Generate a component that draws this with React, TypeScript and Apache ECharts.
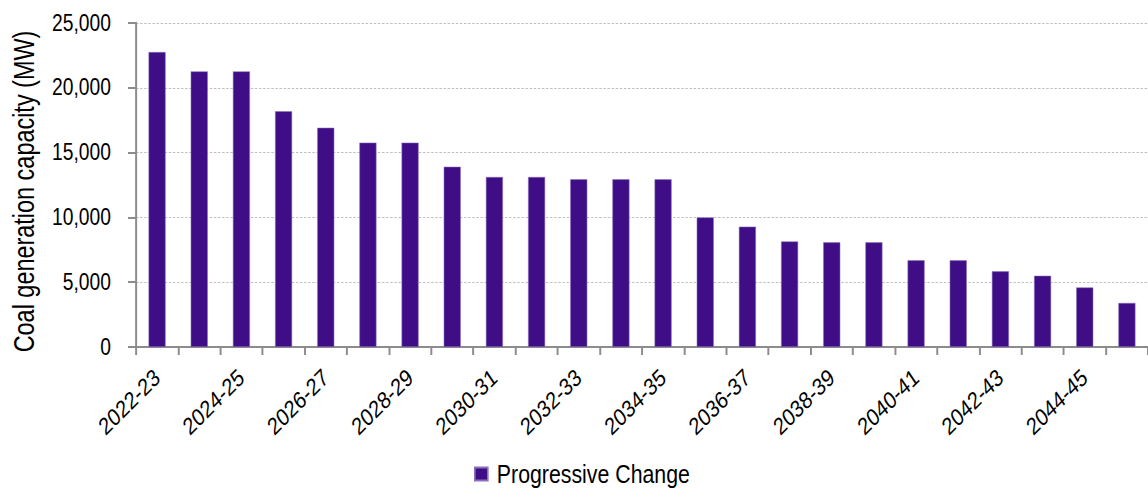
import React, { useEffect, useRef } from "react";
import * as echarts from "echarts";

const categories = [
  "2022-23", "2023-24", "2024-25", "2025-26", "2026-27", "2027-28", "2028-29", "2029-30",
  "2030-31", "2031-32", "2032-33", "2033-34", "2034-35", "2035-36", "2036-37", "2037-38",
  "2038-39", "2039-40", "2040-41", "2041-42", "2042-43", "2043-44", "2044-45", "2045-46",
];

const progressiveChange = [
  22760, 21270, 21270, 18190, 16920, 15770, 15770, 13910,
  13120, 13120, 12940, 12940, 12940, 10000, 9290, 8150,
  8080, 8080, 6690, 6690, 5840, 5500, 4600, 3400,
];

const seriesName = "Progressive Change";
const yTitle = "Coal generation capacity (MW)";
const yMin = 0;
const yMax = 25000;
const yInterval = 5000;

// The reference uses a condensed (Arial Narrow-like) face. We render with
// Liberation Sans on a wider canvas and squeeze it horizontally.
const SQ = 0.82;
const W = 1148 / SQ;
const H = 492;
const FONT = "'Liberation Sans', Arial, sans-serif";
const px = (x: number) => x / SQ;

export default function App() {
  const ref = useRef<HTMLDivElement>(null);

  useEffect(() => {
    if (!ref.current) return;
    const chart = echarts.init(ref.current, undefined, { renderer: "svg" });
    chart.setOption({
      animation: false,
      backgroundColor: "#ffffff",
      grid: { left: px(136), right: W - px(1153.4), top: 23, bottom: H - 347, containLabel: false },
      legend: {
        data: [seriesName],
        left: px(474),
        top: 461,
        padding: 0,
        icon: "rect",
        itemWidth: px(13),
        itemHeight: 13,
        textStyle: { fontFamily: FONT, fontSize: 26, color: "#000", padding: [0, 0, 0, 6] },
      },
      graphic: [
        {
          type: "text",
          x: px(24),
          y: 191.5,
          rotation: Math.PI / 2,
          scaleX: SQ,
          scaleY: 1 / SQ,
          style: {
            text: yTitle,
            fontFamily: FONT,
            fontSize: 28.6,
            fill: "#000",
            align: "center",
            verticalAlign: "middle",
          },
        },
      ],
      xAxis: {
        type: "category",
        data: categories,
        boundaryGap: true,
        axisLine: { show: true, lineStyle: { color: "#8c8c8c", width: 2 } },
        axisTick: { show: true, interval: 0, length: 8, lineStyle: { color: "#8c8c8c", width: 2.4 } },
        axisLabel: {
          interval: 1,
          rotate: (Math.atan(SQ) * 180) / Math.PI,
          margin: 27,
          fontFamily: FONT,
          fontSize: 24,
          color: "#000",
        },
        splitLine: { show: false },
      },
      yAxis: {
        type: "value",
        min: yMin,
        max: yMax,
        interval: yInterval,
        axisLine: { show: true, lineStyle: { color: "#8c8c8c", width: 2.4 } },
        axisTick: { show: true, length: px(8), lineStyle: { color: "#8c8c8c", width: 2 } },
        axisLabel: {
          margin: px(25),
          fontFamily: FONT,
          fontSize: 23.5,
          color: "#000",
          formatter: (v: number) => v.toLocaleString("en-US"),
        },
        splitLine: { show: true, lineStyle: { color: "#b8b8b8", width: 1, type: [3, 2] } },
      },
      series: [
        {
          name: seriesName,
          type: "bar",
          data: progressiveChange,
          barWidth: px(17),
          itemStyle: { color: "#3f0e86", borderColor: "#8a72bb", borderWidth: 0.6 },
        },
      ],
    });
    return () => chart.dispose();
  }, []);

  return (
    <div
      style={{
        position: "absolute",
        left: 0,
        top: 0,
        width: 1148,
        height: H,
        overflow: "hidden",
        background: "#fff",
      }}
    >
      <div
        ref={ref}
        style={{
          position: "absolute",
          left: 0,
          top: 0,
          width: W,
          height: H,
          transform: `scaleX(${SQ})`,
          transformOrigin: "0 0",
        }}
      />
    </div>
  );
}
